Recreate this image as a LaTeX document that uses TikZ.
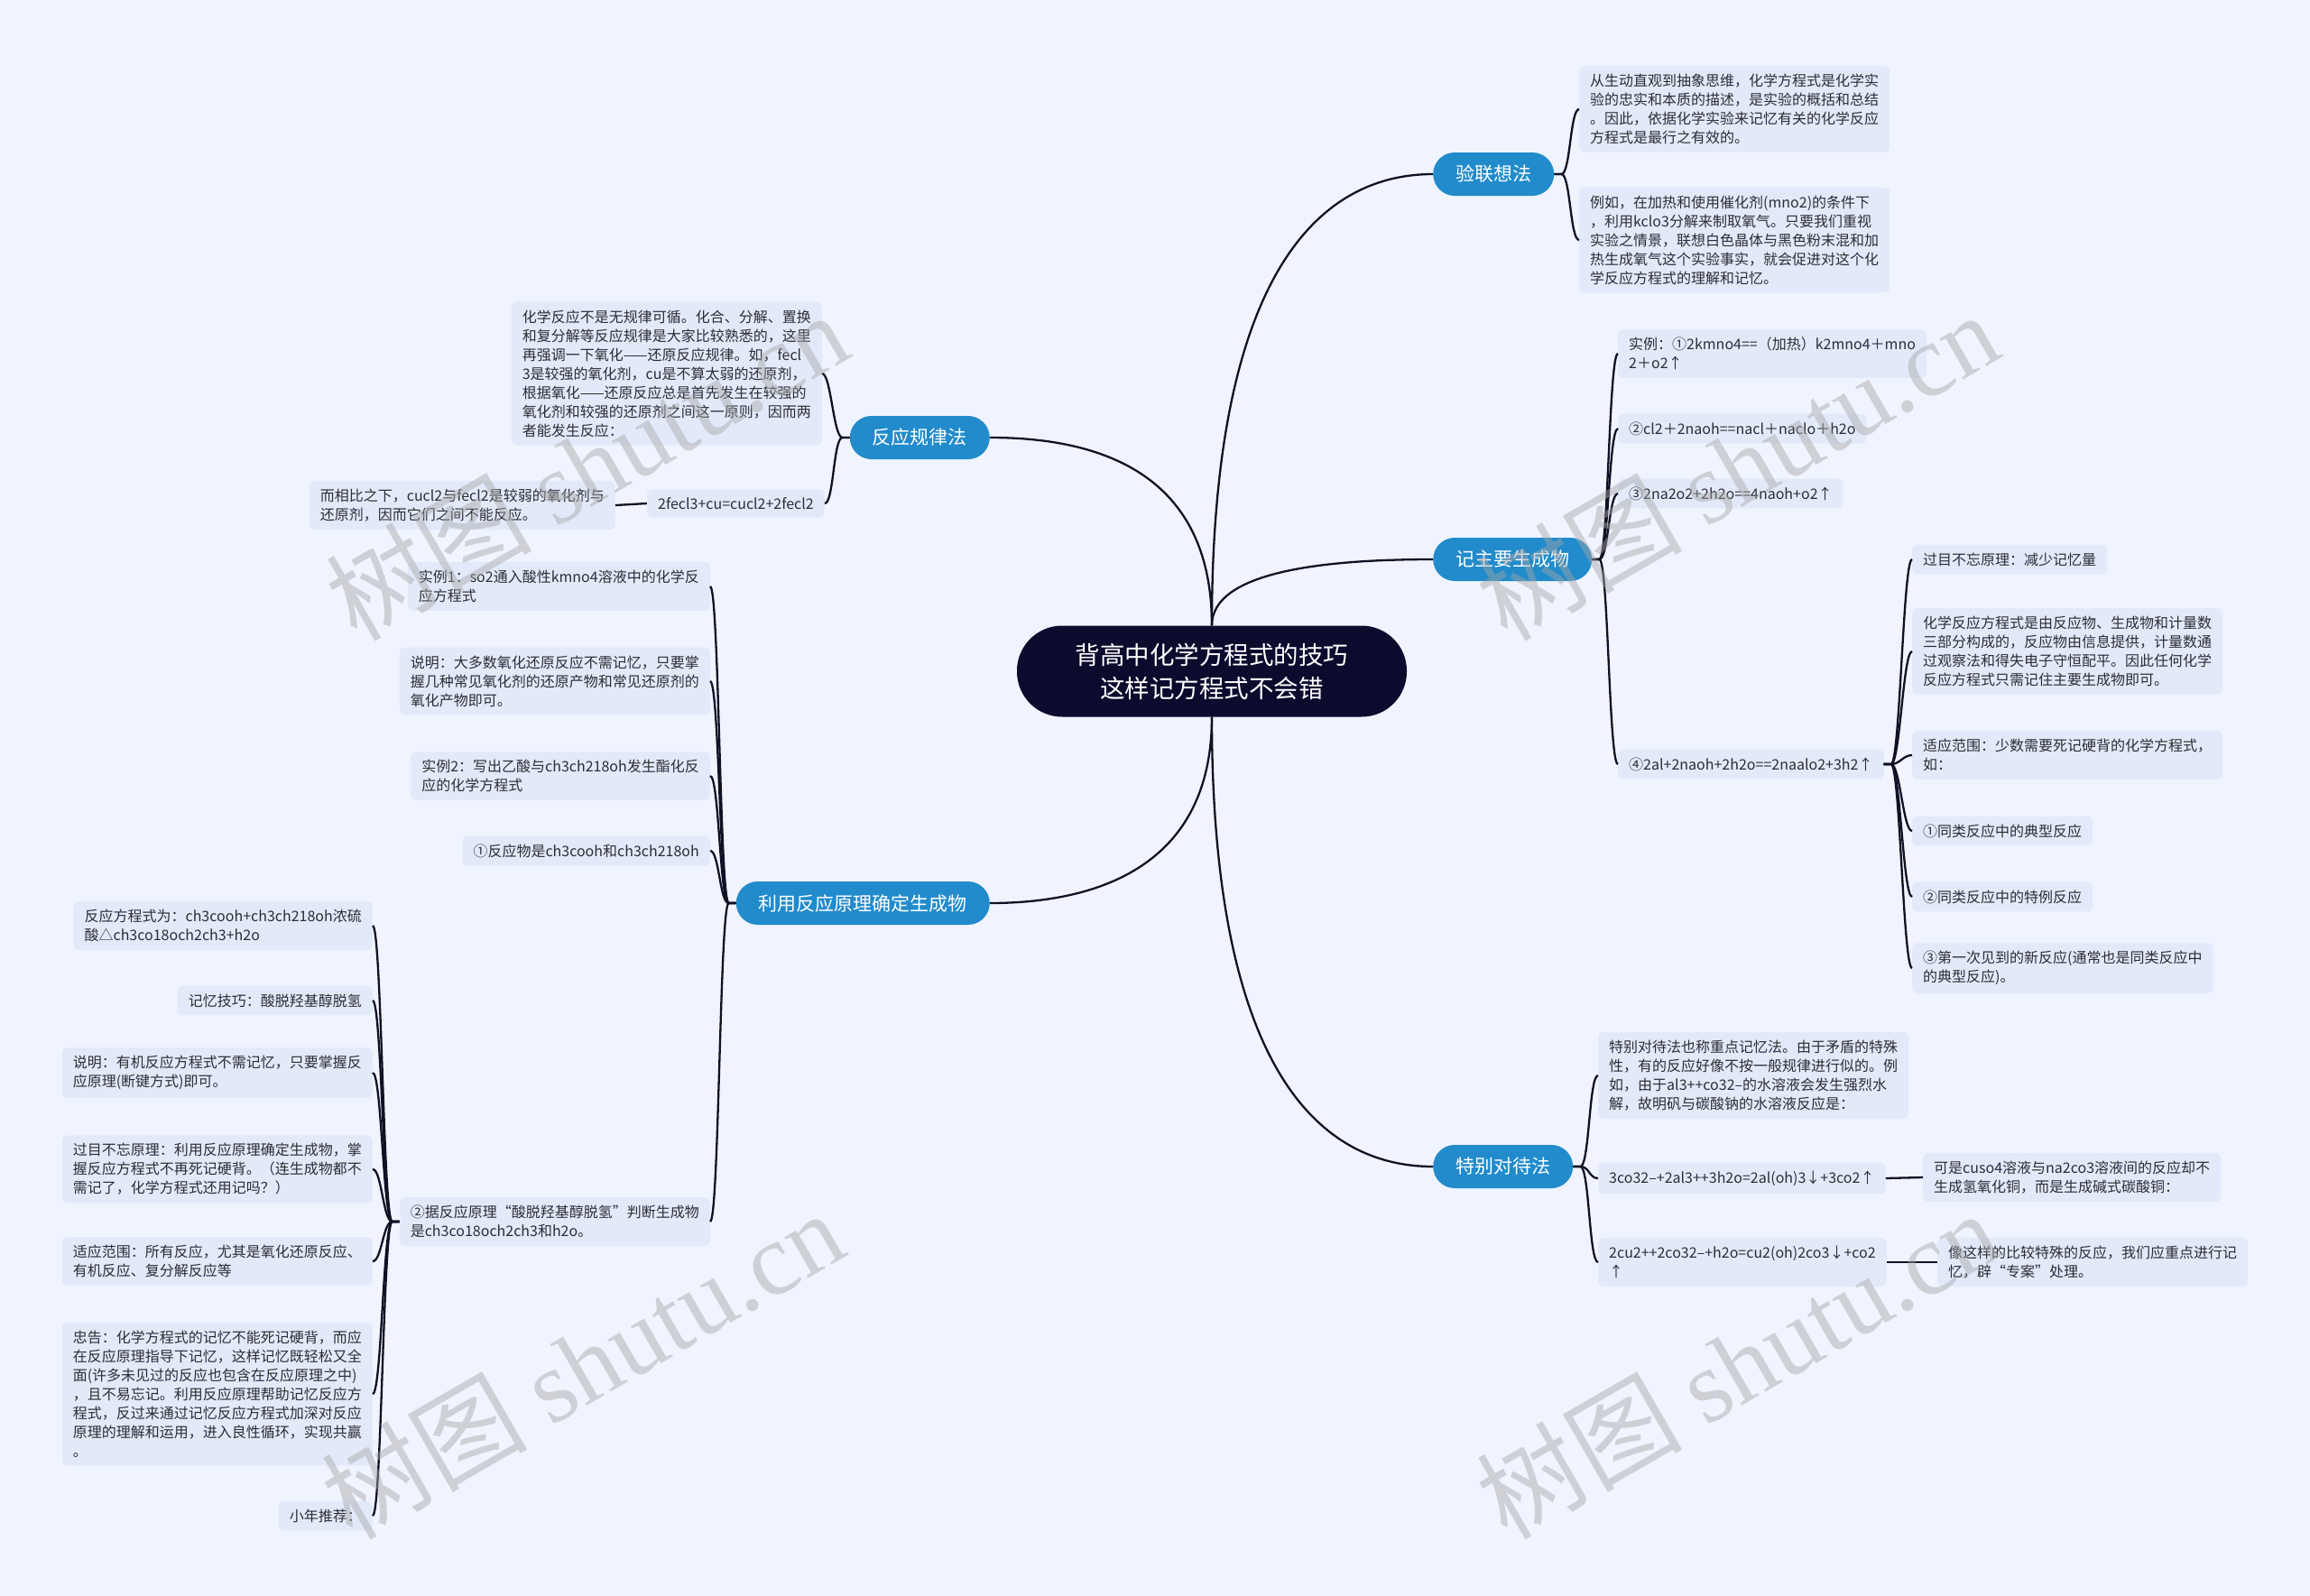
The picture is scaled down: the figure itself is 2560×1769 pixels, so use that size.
\documentclass[tikz,border=0pt]{standalone}
\usepackage{fontspec}
\setmainfont{Noto Sans CJK SC}
\newfontfamily\wmlatin{Liberation Serif}
\usetikzlibrary{positioning}
\definecolor{canvas}{RGB}{239,244,254}
\definecolor{leaffill}{RGB}{226,234,250}
\definecolor{topicblue}{RGB}{33,139,204}
\definecolor{rootnavy}{RGB}{12,10,45}
\definecolor{inkline}{RGB}{18,16,36}
\definecolor{leaftext}{RGB}{45,45,52}

\begin{document}
\begin{tikzpicture}[x=1pt, y=-1pt,
    rootbox/.style={fill=rootnavy, text=white, rounded corners=50pt, minimum width=432pt, minimum height=101pt, align=center, font=\fontsize{27.5}{37}\selectfont},
    topicbox/.style={fill=topicblue, text=white, rounded corners=24pt, minimum height=48pt, inner xsep=25pt, font=\fontsize{21}{25}\selectfont},
    leafbox/.style={fill=leaffill, text=leaftext, rounded corners=6pt, inner xsep=12pt, inner ysep=9pt, align=left, font=\fontsize{16}{21}\selectfont},
    wire/.style={draw=inkline, line width=2.3pt},
    wmark/.style={text=gray!70, opacity=0.45, rotate=30, font=\fontsize{114}{120}\selectfont}]
    \useasboundingbox (0,0) rectangle (2560,1769);
    \fill[canvas] (0,0) rectangle (2560,1769);

    \node[rootbox] (root) at (1343,744) {背高中化学方程式的技巧\\这样记方程式不会错};

    \node[topicbox, anchor=west] (lianxiang) at (1588,193) {验联想法};
    \node[topicbox, anchor=west] (zhuyao) at (1588,620) {记主要生成物};
    \node[topicbox, anchor=west] (tebie) at (1588,1293) {特别对待法};
    \node[topicbox, anchor=east] (guilv) at (1097,485) {反应规律法};
    \node[topicbox, anchor=east] (yuanli) at (1097,1001) {利用反应原理确定生成物};

    \node[leafbox, anchor=west] (lx1) at (1750,121)
      {从生动直观到抽象思维，化学方程式是化学实\\验的忠实和本质的描述，是实验的概括和总结\\。因此，依据化学实验来记忆有关的化学反应\\方程式是最行之有效的。};
    \node[leafbox, anchor=west] (lx2) at (1750,266)
      {例如，在加热和使用催化剂(mno2)的条件下\\，利用kclo3分解来制取氧气。只要我们重视\\实验之情景，联想白色晶体与黑色粉末混和加\\热生成氧气这个实验事实，就会促进对这个化\\学反应方程式的理解和记忆。};

    \node[leafbox, anchor=west] (zy1) at (1793,392)
      {实例：①2kmno4==（加热）k2mno4＋mno\\2＋o2↑};
    \node[leafbox, anchor=west] (zy2) at (1793,475) {②cl2＋2naoh==nacl＋naclo＋h2o};
    \node[leafbox, anchor=west] (zy3) at (1793,547) {③2na2o2+2h2o==4naoh+o2↑};
    \node[leafbox, anchor=west] (zy4) at (1793,847) {④2al+2naoh+2h2o==2naalo2+3h2↑};

    \node[leafbox, anchor=west] (jy1) at (2119,620) {过目不忘原理：减少记忆量};
    \node[leafbox, anchor=west] (jy2) at (2119,722)
      {化学反应方程式是由反应物、生成物和计量数\\三部分构成的，反应物由信息提供，计量数通\\过观察法和得失电子守恒配平。因此任何化学\\反应方程式只需记住主要生成物即可。};
    \node[leafbox, anchor=west] (jy3) at (2119,837)
      {适应范围：少数需要死记硬背的化学方程式，\\如：};
    \node[leafbox, anchor=west] (jy4) at (2119,921) {①同类反应中的典型反应};
    \node[leafbox, anchor=west] (jy5) at (2119,994) {②同类反应中的特例反应};
    \node[leafbox, anchor=west] (jy6) at (2119,1073)
      {③第一次见到的新反应(通常也是同类反应中\\的典型反应)。};

    \node[leafbox, anchor=west] (tb1) at (1771,1192)
      {特别对待法也称重点记忆法。由于矛盾的特殊\\性，有的反应好像不按一般规律进行似的。例\\如，由于al3++co32–的水溶液会发生强烈水\\解，故明矾与碳酸钠的水溶液反应是：};
    \node[leafbox, anchor=west] (tb2) at (1771,1306) {3co32–+2al3++3h2o=2al(oh)3↓+3co2↑};
    \node[leafbox, anchor=west] (tb3) at (1771,1399)
      {2cu2++2co32–+h2o=cu2(oh)2co3↓+co2\\↑};
    \node[leafbox, anchor=west] (tb2n) at (2131,1305)
      {可是cuso4溶液与na2co3溶液间的反应却不\\生成氢氧化铜，而是生成碱式碳酸铜：};
    \node[leafbox, anchor=west] (tb3n) at (2147,1399)
      {像这样的比较特殊的反应，我们应重点进行记\\忆，辟“专案”处理。};

    \node[leafbox, anchor=east] (gl1) at (911,414)
      {化学反应不是无规律可循。化合、分解、置换\\和复分解等反应规律是大家比较熟悉的，这里\\再强调一下氧化——还原反应规律。如，fecl\\3是较强的氧化剂，cu是不算太弱的还原剂，\\根据氧化——还原反应总是首先发生在较强的\\氧化剂和较强的还原剂之间这一原则，因而两\\者能发生反应：};
    \node[leafbox, anchor=east] (gl2) at (914,558) {2fecl3+cu=cucl2+2fecl2};
    \node[leafbox, anchor=east] (gl2n) at (682,560)
      {而相比之下，cucl2与fecl2是较弱的氧化剂与\\还原剂，因而它们之间不能反应。};

    \node[leafbox, anchor=east] (yl1) at (787,650)
      {实例1：so2通入酸性kmno4溶液中的化学反\\应方程式};
    \node[leafbox, anchor=east] (yl2) at (787,755)
      {说明：大多数氧化还原反应不需记忆，只要掌\\握几种常见氧化剂的还原产物和常见还原剂的\\氧化产物即可。};
    \node[leafbox, anchor=east] (yl3) at (787,860)
      {实例2：写出乙酸与ch3ch218oh发生酯化反\\应的化学方程式};
    \node[leafbox, anchor=east] (yl4) at (787,943) {①反应物是ch3cooh和ch3ch218oh};
    \node[leafbox, anchor=east] (yl5) at (787,1354)
      {②据反应原理“酸脱羟基醇脱氢”判断生成物\\是ch3co18och2ch3和h2o。};

    \node[leafbox, anchor=east] (sq1) at (413,1026)
      {反应方程式为：ch3cooh+ch3ch218oh浓硫\\酸△ch3co18och2ch3+h2o};
    \node[leafbox, anchor=east] (sq2) at (413,1109) {记忆技巧：酸脱羟基醇脱氢};
    \node[leafbox, anchor=east] (sq3) at (413,1189)
      {说明：有机反应方程式不需记忆，只要掌握反\\应原理(断键方式)即可。};
    \node[leafbox, anchor=east] (sq4) at (413,1296)
      {过目不忘原理：利用反应原理确定生成物，掌\\握反应方程式不再死记硬背。（连生成物都不\\需记了，化学方程式还用记吗？）};
    \node[leafbox, anchor=east] (sq5) at (413,1398)
      {适应范围：所有反应，尤其是氧化还原反应、\\有机反应、复分解反应等};
    \node[leafbox, anchor=east] (sq6) at (413,1545)
      {忠告：化学方程式的记忆不能死记硬背，而应\\在反应原理指导下记忆，这样记忆既轻松又全\\面(许多未见过的反应也包含在反应原理之中)\\，且不易忘记。利用反应原理帮助记忆反应方\\程式，反过来通过记忆反应方程式加深对反应\\原理的理解和运用，进入良性循环，实现共赢\\。};
    \node[leafbox, anchor=east] (sq7) at (413,1680) {小年推荐：};

    \draw[wire] (root.north) .. controls +(0,-400) and +(-120,0) .. (lianxiang.west);
    \draw[wire] (root.north) .. controls +(0,-60) and +(-120,0) .. (zhuyao.west);
    \draw[wire] (root.south) .. controls +(0,400) and +(-120,0) .. (tebie.west);
    \draw[wire] (root.north) .. controls +(0,-170) and +(120,0) .. (guilv.east);
    \draw[wire] (root.south) .. controls +(0,165) and +(120,0) .. (yuanli.east);

    \foreach \c in {lx1,lx2}
      \draw[wire] (lianxiang.east) -- ++(8,0) .. controls +(10,0) and +(-10,0) .. (\c.west);
    \foreach \c in {zy1,zy2,zy3,zy4}
      \draw[wire] (zhuyao.east) -- ++(8,0) .. controls +(10,0) and +(-10,0) .. (\c.west);
    \foreach \c in {jy1,jy2,jy3,jy4,jy5,jy6}
      \draw[wire] (zy4.east) -- ++(8,0) .. controls +(10,0) and +(-10,0) .. (\c.west);
    \foreach \c in {tb1,tb2,tb3}
      \draw[wire] (tebie.east) -- ++(8,0) .. controls +(10,0) and +(-10,0) .. (\c.west);
    \draw[wire] (tb2.east) -- (tb2n.west);
    \draw[wire] (tb3.east) -- (tb3n.west);

    \foreach \c in {gl1,gl2}
      \draw[wire] (guilv.west) -- ++(-8,0) .. controls +(-10,0) and +(10,0) .. (\c.east);
    \draw[wire] (gl2.west) -- (gl2n.east);
    \foreach \c in {yl1,yl2,yl3,yl4,yl5}
      \draw[wire] (yuanli.west) -- ++(-8,0) .. controls +(-10,0) and +(10,0) .. (\c.east);
    \foreach \c in {sq1,sq2,sq3,sq4,sq5,sq6,sq7}
      \draw[wire] (yl5.west) -- ++(-8,0) .. controls +(-10,0) and +(10,0) .. (\c.east);

    \node[wmark] (wm1) at (650,516) {树图 {\wmlatin shutu.cn}};
    \node[wmark] (wm2) at (1925,516) {树图 {\wmlatin shutu.cn}};
    \node[wmark] (wm3) at (645,1512) {树图 {\wmlatin shutu.cn}};
    \node[wmark] (wm4) at (1925,1512) {树图 {\wmlatin shutu.cn}};
  \end{tikzpicture}
\end{document}
